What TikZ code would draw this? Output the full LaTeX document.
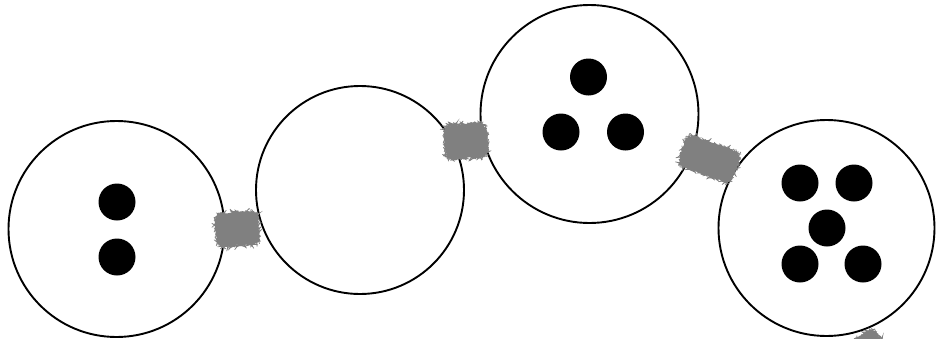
\documentclass[tikz,border=0pt]{standalone}
\usepackage{tikz}
\usetikzlibrary{decorations.pathmorphing}
\definecolor{plugrey}{HTML}{808080}
\tikzset{
  cell/.style  = {circle, draw=black, line width=1.9pt, fill=white,
                  inner sep=0pt, minimum size=216pt},
  dot/.style   = {circle, fill=black, inner sep=0pt, minimum size=37pt},
  plug/.style  = {rectangle, rounded corners=6pt, fill=plugrey,
                  inner sep=0pt, minimum width=40pt, minimum height=31pt,
                  postaction={draw=plugrey, line width=0.6pt, decorate,
                  decoration={random steps, segment length=1pt, amplitude=0.5pt}}},
}

\begin{document}
\begin{tikzpicture}[x=1pt, y=-1pt]
  \useasboundingbox (0,0) rectangle (946,338);

  % cells
  \node[cell] (c1) at (116.5,229) {};
  \node[cell, minimum size=208pt] (c2) at (360,190) {};
  \node[cell, minimum size=218pt] (c3) at (589.5,114) {};
  \node[cell] (c4) at (826.5,228) {};

  % contents
  \foreach \x/\y [count=\i] in {117/202, 117/257}
    \node[dot] (a\i) at (\x,\y) {};
  \foreach \x/\y [count=\i] in {588.5/77, 561/132, 625.5/132}
    \node[dot] (b\i) at (\x,\y) {};
  \foreach \x/\y [count=\i] in {800/183, 854/183, 827/228, 800/264, 863/264}
    \node[dot] (d\i) at (\x,\y) {};

  % junctions between cells
  \node[plug, rotate=5] (p12) at (237,229) {};
  \node[plug, rotate=5, minimum height=32pt] (p23) at (466,141) {};
  \node[plug, rotate=-20, minimum width=54pt, minimum height=30pt] (p34) at (709,159) {};
  \node[plug, rotate=40] (p4) at (866,354) {};
\end{tikzpicture}
\end{document}
